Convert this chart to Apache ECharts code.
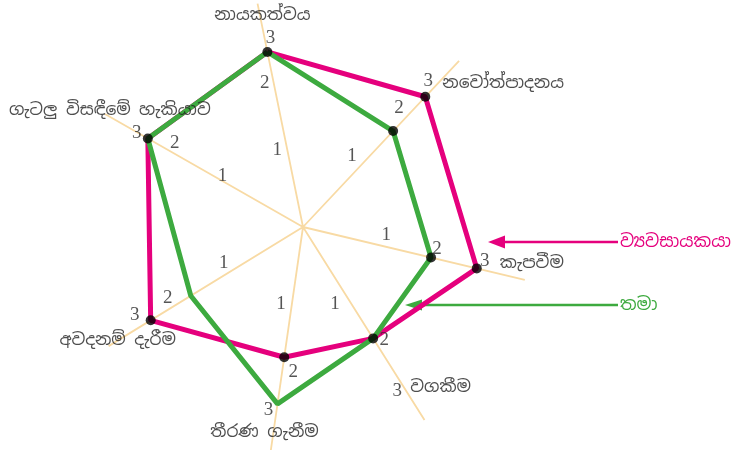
<!DOCTYPE html>
<html>
<head>
<meta charset="utf-8">
<script src="https://cdn.jsdelivr.net/npm/echarts@6/dist/echarts.min.js"></script>
<style>
    html, body { margin: 0; padding: 0; background: #fff; }
    #radar_chart { width: 734px; height: 450px; }
</style>
</head>
<body>
<div id="radar_chart"></div>
<script>
// data
var qualities = ['නායකත්වය', 'නවෝත්පාදනය', 'කැපවීම', 'වගකීම', 'තීරණ ගැනීම', 'අවදනම් දැරීම', 'ගැටලු විසඳීමේ හැකියාව'];
var entrepreneur = [3, 3, 3, 2, 2, 3, 3];
var myself = [3, 2, 2, 2, 3, 2, 3];
var tickValues = [1, 2, 3];
var seriesNames = ['ව්‍යවසායකයා', 'තමා'];

// layout: the drawing has uneven spokes, angle of each one (degrees, counter-clockwise from 3 o'clock)
var spokeAngle = [101.5, 46.8, 346.6, 302.2, 261.8, 211.5, 150.3];
var greenDots = [1, 2];
var tickOffset = [
    [[-9, 6], [-12, -15], [3, -14]],
    [[-9, -9], [6, -23], [3, -16]],
    [[1, -12], [6, -8], [8, -7]],
    [[-13, 5], [11, 2], [-1, 13]],
    [[-10, -7], [9, 15], [-9, 6]],
    [[-7, -8], [-23, 2], [-16, -5]],
    [[-7, -9], [-14, -19], [-11, -5]]
];
var nameOffset = [[-5, -37], [17, -13], [23, -5], [12, 9], [-13, 28], [-33, 20], [-38, -28]];
var nameAlign = ['center', 'left', 'left', 'left', 'center', 'center', 'center'];

var pink = '#E5007D', green = '#3DAA3F';
var sinhalaFont = '"Noto Sans Sinhala", "Iskoola Pota", "Noto Sans", sans-serif';

function polygon(values) {
    var pts = values.map(function (v, i) {
        return [v, spokeAngle[i]];
    });
    pts.push(pts[0]);
    return pts;
}

var tickData = [];
spokeAngle.forEach(function (a, i) {
    tickValues.forEach(function (v, j) {
        tickData.push({value: [v, a], label: {offset: tickOffset[i][j]}});
    });
});

var nameData = qualities.map(function (q, i) {
    return {
        value: [3, spokeAngle[i]],
        name: q,
        label: {offset: nameOffset[i], align: nameAlign[i]}
    };
});

var dotData = entrepreneur.map(function (v, i) {
    return [v, spokeAngle[i]];
});
greenDots.forEach(function (i) {
    dotData.push([myself[i], spokeAngle[i]]);
});

var option = {
    animation: false,
    polar: {
        center: [303, 227],
        radius: [0, 228]
    },
    angleAxis: {
        type: 'value',
        min: 0,
        max: 360,
        startAngle: 0,
        clockwise: false,
        axisLine: {show: false},
        axisLabel: {show: false},
        axisTick: {show: false, customValues: spokeAngle},
        splitLine: {show: true, lineStyle: {color: '#F8DAA4', width: 1.8}}
    },
    radiusAxis: {
        type: 'value',
        min: -0.8,
        max: 4.05,
        axisLine: {show: false},
        axisLabel: {show: false},
        axisTick: {show: false},
        splitLine: {show: false}
    },
    series: [
        {
            name: seriesNames[0],
            type: 'line',
            coordinateSystem: 'polar',
            data: polygon(entrepreneur),
            symbol: 'none',
            z: 2,
            lineStyle: {color: pink, width: 5}
        },
        {
            name: seriesNames[1],
            type: 'line',
            coordinateSystem: 'polar',
            data: polygon(myself),
            symbol: 'none',
            z: 3,
            lineStyle: {color: green, width: 5}
        },
        {
            type: 'scatter',
            coordinateSystem: 'polar',
            data: dotData,
            symbolSize: 10,
            z: 4,
            itemStyle: {color: '#000'}
        },
        {
            type: 'scatter',
            coordinateSystem: 'polar',
            data: tickData,
            symbolSize: 1,
            z: 5,
            itemStyle: {color: 'rgba(0,0,0,0)'},
            label: {
                show: true,
                position: 'inside',
                formatter: function (p) { return p.value[0]; },
                fontFamily: '"Liberation Serif", "Times New Roman", serif',
                fontSize: 19,
                color: '#2a2a2a'
            }
        },
        {
            type: 'scatter',
            coordinateSystem: 'polar',
            data: nameData,
            symbolSize: 1,
            z: 5,
            itemStyle: {color: 'rgba(0,0,0,0)'},
            label: {
                show: true,
                position: 'inside',
                formatter: '{b}',
                verticalAlign: 'middle',
                fontFamily: sinhalaFont,
                fontSize: 17,
                color: '#222'
            }
        }
    ],
    graphic: [
        {type: 'line', shape: {x1: 618, y1: 242, x2: 500, y2: 242}, style: {stroke: pink, lineWidth: 2.5}},
        {type: 'polygon', shape: {points: [[488, 242], [505, 235.5], [505, 248.5]]}, style: {fill: pink}},
        {type: 'text', x: 620, y: 242, style: {text: seriesNames[0], fill: pink, font: '17.5px ' + sinhalaFont, verticalAlign: 'middle'}},
        {type: 'line', shape: {x1: 618, y1: 305, x2: 418, y2: 305}, style: {stroke: green, lineWidth: 2.5}},
        {type: 'polygon', shape: {points: [[405, 305], [422, 299.5], [422, 310.5]]}, style: {fill: green}},
        {type: 'text', x: 620, y: 305, style: {text: seriesNames[1], fill: green, font: '17.5px ' + sinhalaFont, verticalAlign: 'middle'}}
    ]
};

var chart = echarts.init(document.getElementById('radar_chart'));
chart.setOption(option);
</script>
</body>
</html>
